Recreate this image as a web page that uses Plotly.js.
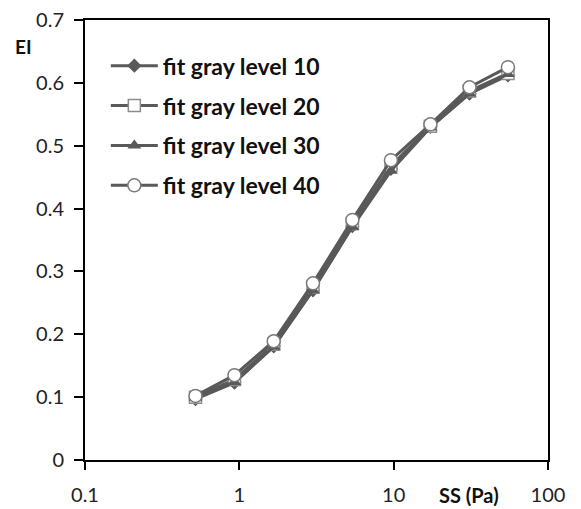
<!DOCTYPE html>
<html>
<head>
<meta charset="utf-8">
<script src="https://cdn.plot.ly/plotly-3.0.1.min.js"></script>
<style>html,body{margin:0;padding:0;background:#fff;}#chart{width:581px;height:509px;}</style>
</head>
<body>
<div id="chart"></div>
<script>
var ss = [0.52, 0.93, 1.67, 3.0, 5.4, 9.6, 17.3, 31, 55];
var level10 = [0.097, 0.123, 0.181, 0.270, 0.372, 0.463, 0.530, 0.583, 0.612];
var level20 = [0.100, 0.128, 0.184, 0.275, 0.376, 0.468, 0.531, 0.587, 0.615];
var level30 = [0.099, 0.124, 0.180, 0.270, 0.371, 0.460, 0.529, 0.583, 0.614];
var level40 = [0.102, 0.135, 0.189, 0.281, 0.382, 0.477, 0.534, 0.593, 0.625];
var names = ['fit gray level 10', 'fit gray level 20', 'fit gray level 30', 'fit gray level 40'];
var xTicks = [0.1, 1, 10, 100];
var xTickText = ['0.1', '1', '10', '100'];
var yTicks = [0, 0.1, 0.2, 0.3, 0.4, 0.5, 0.6, 0.7];
var yTickText = ['0', '0.1', '0.2', '0.3', '0.4', '0.5', '0.6', '0.7'];

var lineColor = '#595959';
function tr(y, name, grp, marker) {
  return {x: ss, y: y, name: name, legendgroup: grp, type: 'scatter', mode: 'lines+markers',
    line: {color: lineColor, width: 3}, marker: marker};
}
var data = [
  tr(level10, names[0], 'a', {symbol: 'diamond', size: 11, color: lineColor, line: {width: 0}}),
  tr(level20, names[1], 'b', {symbol: 'square', size: 12, color: '#ffffff', line: {color: '#8c8c8c', width: 1.5}}),
  tr(level30, names[2], 'c', {symbol: 'triangle-up', size: 12, color: lineColor, line: {width: 0}}),
  tr(level40, names[3], 'd', {symbol: 'circle', size: 13, color: '#ffffff', line: {color: '#7a7a7a', width: 1.5}})
];

var tickFont = {family: 'Lato, sans-serif', size: 20, color: '#222'};
var layout = {
  width: 581, height: 509,
  margin: {l: 85, r: 33, t: 20, b: 49},
  paper_bgcolor: '#ffffff', plot_bgcolor: '#ffffff',
  showlegend: true,
  legend: {x: 0.045, y: 0.945, xanchor: 'left', yanchor: 'top', bgcolor: 'rgba(0,0,0,0)',
    font: {family: 'Lato, sans-serif', size: 23, color: '#111', weight: 'bold'},
    tracegroupgap: 7, itemwidth: 47},
  xaxis: {type: 'log', range: [-1, 2], tickvals: xTicks, ticktext: xTickText,
    showgrid: false, zeroline: false, showline: true, linecolor: '#000', linewidth: 2, mirror: true,
    ticks: 'outside', ticklen: 8, tickwidth: 2, tickcolor: '#000', ticklabelstandoff: 8,
    tickfont: tickFont},
  yaxis: {range: [0, 0.7], tickvals: yTicks, ticktext: yTickText,
    showgrid: false, zeroline: false, showline: true, linecolor: '#000', linewidth: 2, mirror: true,
    ticks: 'outside', ticklen: 9, tickwidth: 2, tickcolor: '#000', ticklabelstandoff: 6,
    tickfont: tickFont},
  annotations: [
    {text: 'EI', xref: 'paper', yref: 'paper', x: -0.155, y: 0.94, xanchor: 'left', yanchor: 'middle', showarrow: false,
      font: {family: 'Lato, sans-serif', size: 19, color: '#111', weight: 'bold'}},
    {text: 'SS (Pa)', xref: 'paper', yref: 'paper', x: 0.83, y: -0.08, xanchor: 'center', yanchor: 'middle', showarrow: false,
      font: {family: 'Lato, sans-serif', size: 20, color: '#111', weight: 'bold'}}
  ]
};
Plotly.newPlot('chart', data, layout, {displayModeBar: false, staticPlot: true});
</script>
</body>
</html>
